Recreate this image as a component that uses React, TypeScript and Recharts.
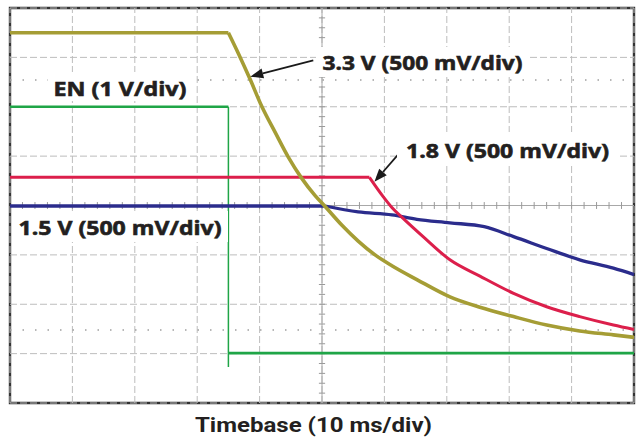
import React from "react"
import { LineChart, Line, XAxis, YAxis, ReferenceLine, ReferenceArea } from "recharts"

// scope screen: 10 x-divisions, 8 y-divisions, values in divisions
const enTime = [0, 3.5, 3.5, 3.5, 10]
const enLevel = [6.0, 6.0, 0.73, 1.01, 1.01]

const v33Time = [0, 3.5, 3.66, 3.85, 4.03, 4.25, 4.46, 4.67, 4.89, 5.05, 5.32, 5.58, 5.85, 6.12, 6.52, 7.05, 7.53, 8.07, 8.6, 9.13, 9.67, 10]
const v33Level = [7.5, 7.5, 7.08, 6.55, 6.02, 5.48, 4.98, 4.56, 4.2, 3.98, 3.6, 3.28, 3.0, 2.78, 2.5, 2.15, 1.94, 1.75, 1.58, 1.46, 1.38, 1.33]

const v18Time = [0, 5.76, 5.98, 6.12, 6.3, 6.62, 7.05, 7.53, 8.07, 8.6, 9.13, 9.67, 10]
const v18Level = [4.57, 4.57, 4.18, 3.96, 3.74, 3.37, 2.9, 2.57, 2.22, 1.95, 1.75, 1.58, 1.49]

const v15Time = [0, 5.05, 5.58, 6.12, 6.52, 7.05, 7.6, 8.07, 8.6, 9.13, 9.67, 10]
const v15Level = [3.99, 3.99, 3.87, 3.81, 3.72, 3.65, 3.57, 3.37, 3.13, 2.9, 2.73, 2.6]

const xTicks = [0, 1, 2, 3, 4, 5, 6, 7, 8, 9, 10]
const yTicks = [0, 1, 2, 3, 4, 5, 6, 7, 8]
const cursorLevels = [6.54, 1.48]

// arrows: [tail, tip] in divisions
const arrow33 = [{ x: 4.86, y: 6.94 }, { x: 3.85, y: 6.61 }]
const arrow18 = [{ x: 6.24, y: 5.06 }, { x: 5.84, y: 4.48 }]

const toPoints = (t: number[], v: number[]) => t.map((x, i) => ({ t: x, v: v[i] }))

const minorX = Array.from({ length: 49 }, (_, i) => (i + 1) * 0.2)
const minorY = Array.from({ length: 39 }, (_, i) => (i + 1) * 0.2)

const ArrowShape = (p: any) => {
  const { x1, y1, x2, y2 } = p
  const a = Math.atan2(y2 - y1, x2 - x1)
  const len = 13
  const half = 5
  const bx = x2 - len * Math.cos(a)
  const by = y2 - len * Math.sin(a)
  const nx = -Math.sin(a) * half
  const ny = Math.cos(a) * half
  return (
    <g>
      <line x1={x1} y1={y1} x2={bx} y2={by} stroke="#1a1a1a" strokeWidth={1.8} />
      <polygon points={`${x2},${y2} ${bx + nx},${by + ny} ${bx - nx},${by - ny}`} fill="#1a1a1a" />
    </g>
  )
}

// flat part drawn straight, decay drawn as a smooth curve
function Trace({ t, v, color, width }: { t: number[]; v: number[]; color: string; width: number }) {
  const pts = toPoints(t, v)
  return [
    <Line key="flat" data={pts.slice(0, 2)} dataKey="v" type="linear" stroke={color} strokeWidth={width} dot={false} isAnimationActive={false} />,
    <Line key="decay" data={pts.slice(1)} dataKey="v" type="monotone" stroke={color} strokeWidth={width} dot={false} isAnimationActive={false} />,
  ]
}

const labelFont = "'Open Sans', 'DejaVu Sans', sans-serif"

const labels = [
  { text: "3.3 V (500 mV/div)", box: [316, 47, 214, 30], x: 322.5, y: 69.5, w: 200 },
  { text: "EN (1 V/div)", box: [48, 72, 145, 29], x: 53.5, y: 95.5, w: 133 },
  { text: "1.8 V (500 mV/div)", box: [397, 132, 221, 33], x: 406, y: 157.5, w: 203 },
  { text: "1.5 V (500 mV/div)", box: [12, 211, 216, 31], x: 18.5, y: 235, w: 203 },
]

const gridColor = "#bdbdbd"
const enColor = "#1fa547"

export default function App() {
  const en = toPoints(enTime, enLevel)
  return (
    <div style={{ position: "absolute", left: 0, top: 0, width: 636, height: 437, background: "#fff" }}>
      <LineChart width={636} height={437} margin={{ top: 8, right: 2, bottom: 34, left: 10 }}>
        <XAxis dataKey="t" type="number" domain={[0, 10]} ticks={xTicks} hide allowDuplicatedCategory={false} />
        <YAxis type="number" domain={[0, 8]} ticks={yTicks} hide />
        {xTicks.map((t) => (
          <ReferenceLine key={"gx" + t} x={t} stroke={gridColor} strokeDasharray="7 3" />
        ))}
        {yTicks.map((v) => (
          <ReferenceLine key={"gy" + v} y={v} stroke={gridColor} strokeDasharray="7 3" />
        ))}
        <ReferenceLine x={5} stroke="#a8a8a8" />
        <ReferenceLine y={4} stroke="#a8a8a8" />
        {minorX.map((t) => (
          <ReferenceLine key={"mx" + t} segment={[{ x: t, y: 3.93 }, { x: t, y: 4.07 }]} stroke="#9a9a9a" />
        ))}
        {minorY.map((v) => (
          <ReferenceLine key={"my" + v} segment={[{ x: 4.95, y: v }, { x: 5.05, y: v }]} stroke="#9a9a9a" />
        ))}
        {cursorLevels.map((v) => (
          <ReferenceLine key={"c" + v} y={v} stroke="#a0a0a0" strokeWidth={1.5} strokeDasharray="1.5 11" />
        ))}
        <Line data={en.slice(0, 2)} dataKey="v" type="linear" stroke={enColor} strokeWidth={2.4} dot={false} isAnimationActive={false} />
        <Line data={en.slice(1, 4)} dataKey="v" type="linear" stroke={enColor} strokeWidth={1.5} dot={false} isAnimationActive={false} />
        <Line data={en.slice(3)} dataKey="v" type="linear" stroke={enColor} strokeWidth={2.6} dot={false} isAnimationActive={false} />
        {Trace({ t: v15Time, v: v15Level, color: "#2b2c8c", width: 3.3 })}
        {Trace({ t: v18Time, v: v18Level, color: "#dc1f4b", width: 3 })}
        {Trace({ t: v33Time, v: v33Level, color: "#a59d35", width: 3.6 })}
        <ReferenceLine segment={arrow33} shape={ArrowShape} />
        <ReferenceLine segment={arrow18} shape={ArrowShape} />
        <ReferenceArea x1={0} x2={10} y1={0} y2={8} fill="none" fillOpacity={0} stroke="#333" strokeWidth={2.4} />
      </LineChart>
      <svg width={636} height={437} style={{ position: "absolute", left: 0, top: 0, pointerEvents: "none" }}>
        {labels.map((l) => (
          <g key={l.text}>
            <rect x={l.box[0]} y={l.box[1]} width={l.box[2]} height={l.box[3]} fill="#fff" />
            <text x={l.x} y={l.y} fontFamily={labelFont} fontWeight={700} fontSize={19.5} fill="#231f20" stroke="#231f20" strokeWidth={0.6} textLength={l.w} lengthAdjust="spacingAndGlyphs">
              {l.text}
            </text>
          </g>
        ))}
        <text x={195} y={432} fontFamily="Roboto, 'Liberation Sans', sans-serif" fontWeight={700} fontSize={21} fill="#231f20" textLength={237} lengthAdjust="spacingAndGlyphs">
          Timebase (10 ms/div)
        </text>
      </svg>
    </div>
  )
}
